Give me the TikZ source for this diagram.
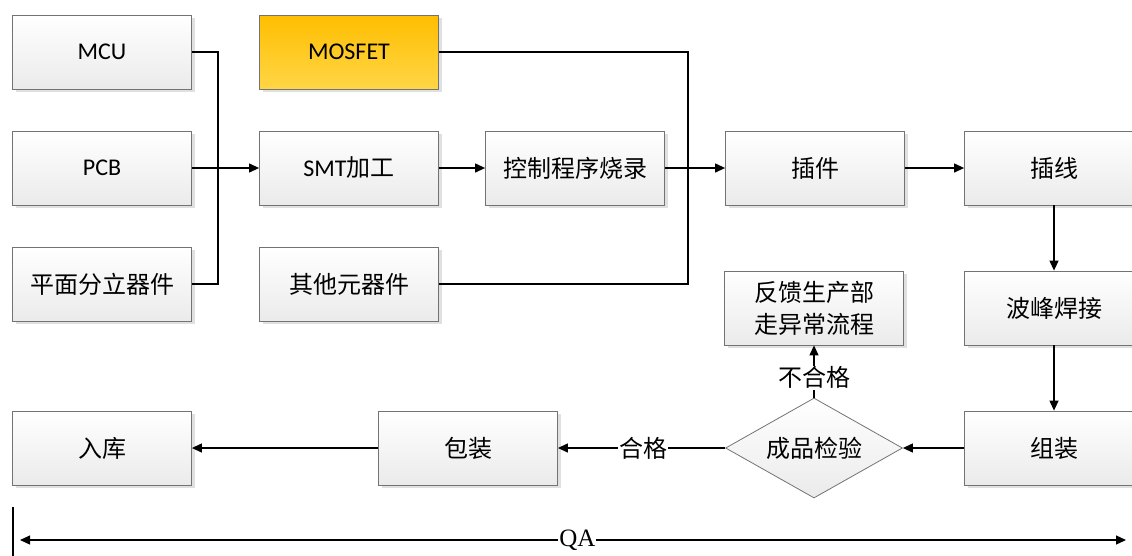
\documentclass[tikz,border=0pt]{standalone}
\usepackage{fontspec}
\setmainfont{Carlito}
\newfontfamily\cjk{Noto Sans CJK SC}
\newfontfamily\qafont{Liberation Serif}
\usetikzlibrary{arrows.meta,shapes.geometric,shadows,positioning}
\newcommand\zh[1]{{\cjk #1}}
\tikzset{
  box/.style={draw=black!55, line width=0.8pt, top color=white, bottom color=black!8,
    minimum width=179pt, minimum height=74pt, inner sep=2pt, align=center,
    font=\fontsize{24}{32}\selectfont,
    drop shadow={shadow xshift=3pt, shadow yshift=-3pt, fill=black!12, opacity=1}},
  hot/.style={box, top color={rgb,255:red,255;green,190;blue,0}, bottom color={rgb,255:red,255;green,214;blue,70}},
  check/.style={diamond, draw=black!55, line width=0.8pt, top color=white, bottom color=black!8,
    minimum width=177pt, minimum height=100pt, inner sep=0pt, aspect=1.77,
    font=\fontsize{24}{32}\selectfont},
  flow/.style={line width=1.2pt, -{Triangle[length=10pt,width=9pt]}},
  link/.style={line width=1.2pt},
  tag/.style={fill=white, inner sep=1pt, font=\fontsize{24}{28}\selectfont}
}
\begin{document}
\begin{tikzpicture}[x=1pt,y=-1pt]
\useasboundingbox (0,0) rectangle (1132,555);
\clip (0,0) rectangle (1132,555);
% parts
\node [box] (mcu) at (102,52) {MCU};
\node [box] (pcb) at (102,168) {PCB};
\node [box] (discrete) at (102,284) {\zh{平面分立器件}};
\node [hot] (mosfet) at (349,52) {MOSFET};
\node [box] (smt) at (349,168) {SMT\zh{加工}};
\node [box] (other) at (349,284) {\zh{其他元器件}};
\node [box] (burn) at (575,168) {\zh{控制程序烧录}};
% line
\node [box] (plugin) at (815,168) {\zh{插件}};
\node [box] (wire) at (1054,168) {\zh{插线}};
\node [box] (wave) at (1054,308) {\zh{波峰焊接}};
\node [box] (assem) at (1054,448) {\zh{组装}};
\node [check] (test) at (814,448) {\zh{成品检验}};
\node [box] (feedback) at (814,308) {\zh{反馈生产部}\\\zh{走异常流程}};
\node [box] (pack) at (468,448) {\zh{包装}};
\node [box] (store) at (102,448) {\zh{入库}};
% joins
\coordinate (j1) at (218,168);
\coordinate (j2) at (688,168);
\draw [link] (mcu.east) -| (j1) |- (discrete.east);
\draw [flow] (pcb) -- (smt);
\draw [flow] (smt) -- (burn);
\draw [link] (mosfet.east) -| (j2) |- (other.east);
\draw [flow] (burn) -- (plugin);
\draw [flow] (plugin) -- (wire);
\draw [flow] (wire) -- (wave);
\draw [flow] (wave) -- (assem);
\draw [flow] (assem) -- (test);
\draw [flow] (test) -- node [tag, pos=0.49] {\zh{合格}} (pack);
\draw [flow] (pack) -- (store);
\draw [flow] (test) -- node [tag, pos=0.38] {\zh{不合格}} (feedback);
% QA
\coordinate (qa0) at (13,507);
\coordinate (qa1) at (13,560);
\coordinate (qaL) at (20,540);
\coordinate (qaR) at (1126,540);
\draw [link] (qa0) -- (qa1);
\draw [line width=1.2pt, {Triangle[length=10pt,width=9pt]}-{Triangle[length=10pt,width=9pt]}] (qaL) -- node [pos=0.504, fill=white, inner sep=1pt, font=\qafont\fontsize{25}{28}\selectfont] {QA} (qaR);
\end{tikzpicture}
\end{document}
